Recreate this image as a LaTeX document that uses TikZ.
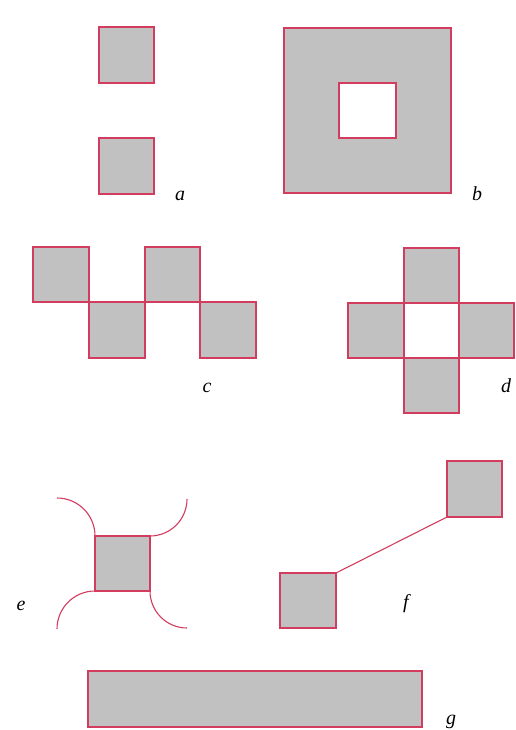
\documentclass[tikz,border=0pt]{standalone}
\usepackage{fontspec}
\setmainfont{Liberation Serif}
\definecolor{sq}{RGB}{192,193,192}
\definecolor{edge}{RGB}{210,60,95}
\begin{document}
\begin{tikzpicture}[x=1bp,y=-1bp,
  tilefill/.style={fill=sq},
  outline/.style={draw=edge,line width=1.1bp},
  lab/.style={font=\fontsize{20}{22}\selectfont\itshape,anchor=base,inner sep=0pt}]
\useasboundingbox (0,0) rectangle (516,730);
% fills
\foreach \r in {{(99,27) rectangle (154,83)},{(99,138) rectangle (154,194)},
  {(33,247) rectangle (89,302)},{(89,302) rectangle (145,358)},
  {(145,247) rectangle (200,302)},{(200,302) rectangle (256,358)},
  {(404,248) rectangle (459,303)},{(348,303) rectangle (404,358)},
  {(459,303) rectangle (514,358)},{(404,358) rectangle (459,413)},
  {(95,536) rectangle (150,591)},{(447,461) rectangle (502,517)},
  {(280,573) rectangle (336,628)},{(88,671) rectangle (422,727)}}
  {\expandafter\path\expandafter[\expandafter t\expandafter i\expandafter l\expandafter e\expandafter f\expandafter i\expandafter l\expandafter l\expandafter]\r;}
\path[tilefill,even odd rule] (284,28) rectangle (451,193) (339,83) rectangle (396,138);
% outlines
\path[outline] (99,27) rectangle (154,83) (99,138) rectangle (154,194);
\path[outline] (284,28) rectangle (451,193) (339,83) rectangle (396,138);
\path[outline] (33,247) rectangle (89,302) (89,302) rectangle (145,358)
  (145,247) rectangle (200,302) (200,302) rectangle (256,358);
\path[outline] (404,248) rectangle (459,303) (348,303) rectangle (404,358)
  (459,303) rectangle (514,358) (404,358) rectangle (459,413);
\path[outline] (95,536) rectangle (150,591);
\path[outline] (447,461) rectangle (502,517) (280,573) rectangle (336,628);
\path[outline] (88,671) rectangle (422,727);
% e arcs
\coordinate (e1) at (95,536);
\coordinate (e2) at (150,536);
\coordinate (e3) at (95,591);
\coordinate (e4) at (150,591);
\draw[outline] (e1) arc[start angle=0,end angle=-90,radius=38];
\draw[outline] (e2) arc[start angle=90,end angle=0,radius=37];
\draw[outline] (e3) arc[start angle=-90,end angle=-180,radius=38];
\draw[outline] (e4) arc[start angle=180,end angle=90,radius=37];
% f connector
\coordinate (f1) at (336,573);
\coordinate (f2) at (447,517);
\draw[outline] (f1) -- (f2);
% labels
\node[lab] (la) at (180,200) {a};
\node[lab] (lb) at (477,200) {b};
\node[lab] (lc) at (207,392) {c};
\node[lab] (ld) at (506,392) {d};
\node[lab] (le) at (21,610) {e};
\node[lab] (lf) at (406,608) {f};
\node[lab] (lg) at (451,724) {g};
\end{tikzpicture}
\end{document}
